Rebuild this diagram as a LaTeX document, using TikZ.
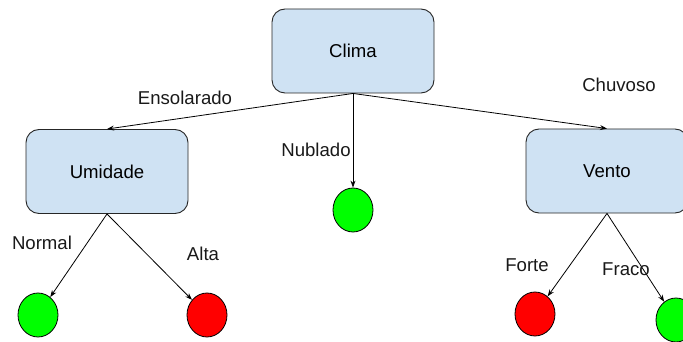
\documentclass[tikz,border=0pt]{standalone}
\usepackage{fontspec}
\setmainfont{Liberation Sans}
\usetikzlibrary{shapes.geometric,arrows.meta}
\definecolor{boxfill}{HTML}{CFE2F3}
\definecolor{leafgreen}{HTML}{00FF00}
\definecolor{leafred}{HTML}{FF0000}
\tikzset{
  every node/.style={font=\fontsize{18.6}{22}\selectfont},
  decision/.style={draw=black!85, line width=0.9pt, fill=boxfill, rounded corners=13pt,
    minimum width=162pt, minimum height=84pt, inner sep=0pt},
  leaf/.style={ellipse, draw=black, line width=0.8pt, minimum width=40pt,
    minimum height=44pt, inner sep=0pt},
  yes/.style={leaf, fill=leafgreen},
  no/.style={leaf, fill=leafred},
  edge/.style={line width=0.8pt, -{Stealth[length=7pt,width=5pt]}},
  lbl/.style={inner sep=0pt, text=black!90}
}
\begin{document}
\begin{tikzpicture}[x=1pt,y=-1pt]
  \useasboundingbox (0,0) rectangle (683,342);
  \clip (0,0) rectangle (683,342);
  % decision nodes
  \node[decision] (clima) at (353,51) {Clima};
  \node[decision] (umid) at (107,171.5) {Umidade};
  \node[decision] (vento) at (607,171) {Vento};
  % leaves
  \node[yes] (nub) at (353,210) {};
  \node[yes] (normal) at (38,315) {};
  \node[no] (alta) at (207,315) {};
  \node[no] (forte) at (535,314) {};
  \node[yes] (fraco) at (676,320) {};
  % branches
  \draw[edge] (clima.south) -- (umid.north);
  \draw[edge] (clima.south) -- (vento.north);
  \draw[edge] (clima.south) -- (nub);
  \draw[edge] (umid.south) -- (normal);
  \draw[edge] (umid.south) -- (alta);
  \draw[edge] (vento.south) -- (forte);
  \draw[edge] (vento.south) -- (fraco);
  % branch labels
  \node[lbl] (l1) at (185,98) {Ensolarado};
  \node[lbl] (l2) at (619,85) {Chuvoso};
  \node[lbl] (l3) at (316,150) {Nublado};
  \node[lbl] (l4) at (42,243) {Normal};
  \node[lbl] (l5) at (203,254) {Alta};
  \node[lbl] (l6) at (527,265) {Forte};
  \node[lbl] (l7) at (626,269) {Fraco};
\end{tikzpicture}
\end{document}
